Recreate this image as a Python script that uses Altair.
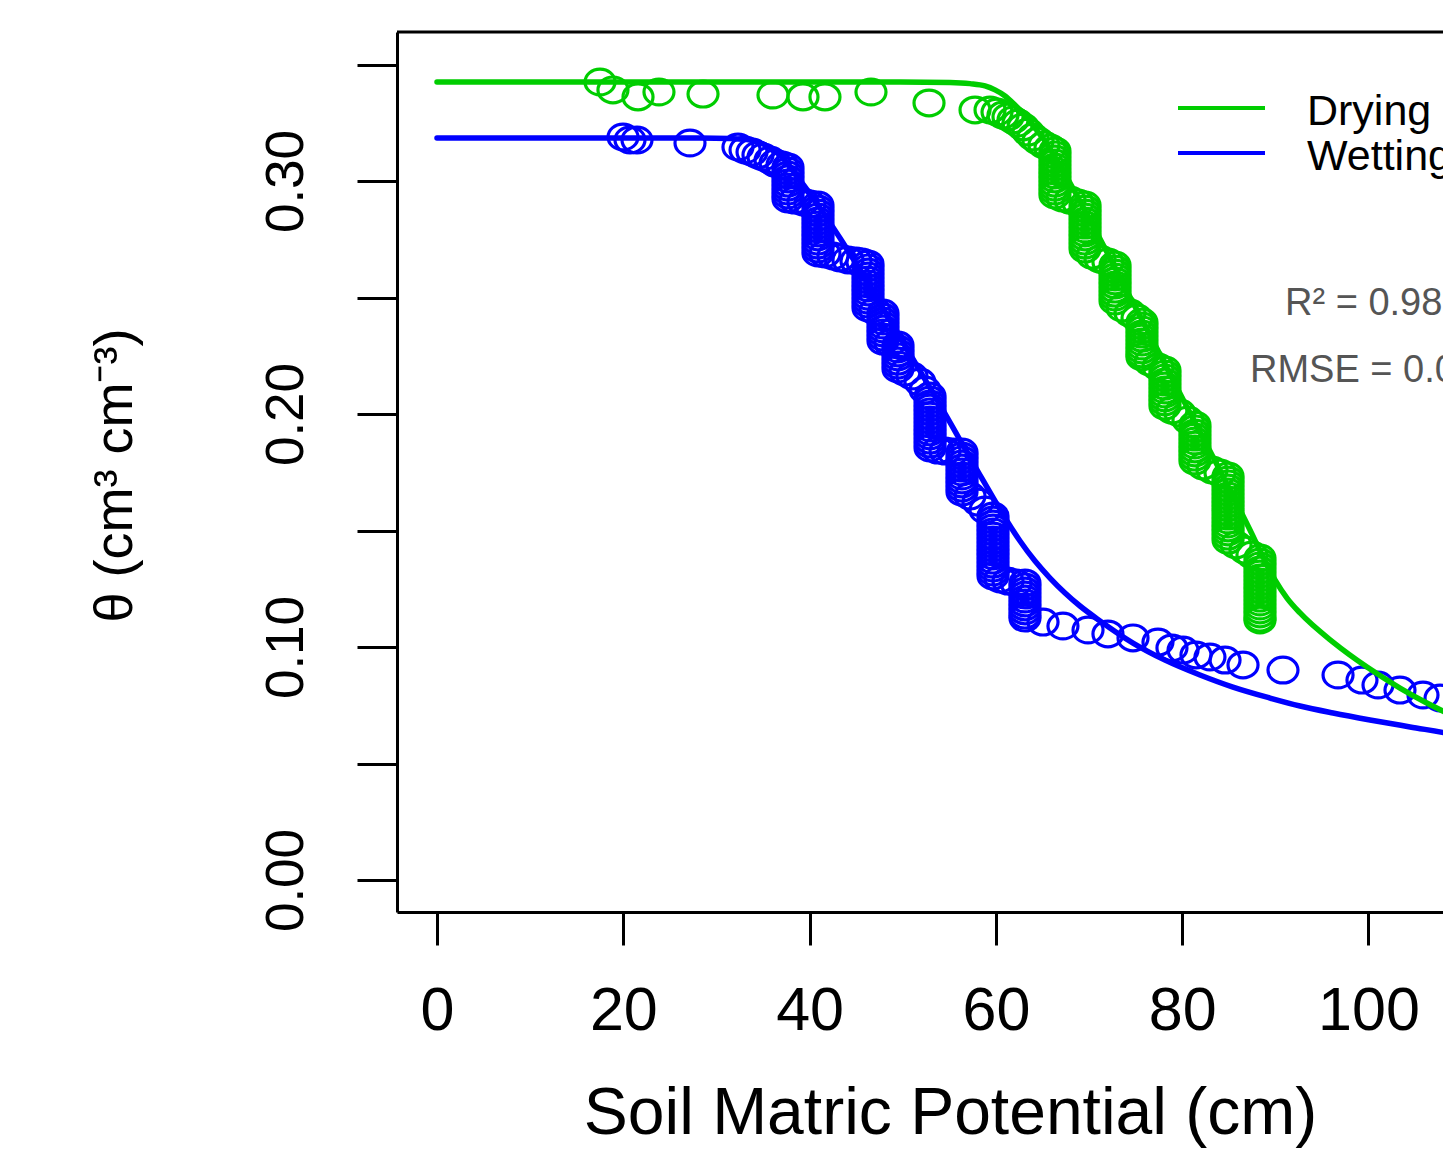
import altair as alt
import pandas as pd

FONT = "Liberation Sans"

# ---------------- data ----------------
# Drying (green) observations: scattered points
dry_pts_x = [17.50, 18.89, 21.58, 23.83, 28.56, 36.07, 39.29, 41.65, 46.59, 52.82,
             57.76, 59.37, 60.12, 60.76, 61.30, 61.84, 62.37, 62.91, 63.45, 63.98,
             64.52, 65.16, 65.81,
             67.10, 67.96, 68.81, 70.32, 71.18, 72.03, 73.54, 74.40, 75.15,
             76.54, 77.40, 78.90, 79.76, 80.62, 82.23, 83.20, 84.06,
             85.78, 86.74, 87.49]
dry_pts_y = [0.3425, 0.3391, 0.3361, 0.3382, 0.3373, 0.3369, 0.3361, 0.3361, 0.3382, 0.3335,
             0.3305, 0.3305, 0.3296, 0.3283, 0.3275, 0.3262, 0.3249, 0.3232, 0.3210, 0.3189,
             0.3172, 0.3155, 0.3142,
             0.2927, 0.2918, 0.2906, 0.2682, 0.2665, 0.2652, 0.2455, 0.2433, 0.2412,
             0.2223, 0.2202, 0.2017, 0.2004, 0.1974, 0.1777, 0.1760, 0.1747,
             0.1438, 0.1416, 0.1395]
# Drying observations: vertical runs (same potential, many water contents)
dry_stack_x = [66.34, 69.57, 72.79, 75.68, 78.15, 81.37, 84.92, 88.35]
dry_stack_y = [
    [0.3129, 0.3112, 0.3094, 0.3077, 0.3060, 0.3043, 0.3026, 0.3009, 0.2991, 0.2974, 0.2957, 0.2940],
    [0.2897, 0.2880, 0.2863, 0.2845, 0.2828, 0.2811, 0.2794, 0.2777, 0.2760, 0.2742, 0.2725, 0.2708],
    [0.2639, 0.2622, 0.2605, 0.2588, 0.2571, 0.2554, 0.2536, 0.2519, 0.2502, 0.2485],
    [0.2395, 0.2378, 0.2361, 0.2343, 0.2326, 0.2309, 0.2292, 0.2275, 0.2258, 0.2245],
    [0.2189, 0.2172, 0.2155, 0.2137, 0.2120, 0.2103, 0.2086, 0.2069, 0.2052, 0.2034],
    [0.1953, 0.1936, 0.1918, 0.1901, 0.1884, 0.1867, 0.1850, 0.1833, 0.1815, 0.1798],
    [0.1734, 0.1717, 0.1700, 0.1682, 0.1665, 0.1648, 0.1631, 0.1614, 0.1597, 0.1579,
     0.1562, 0.1545, 0.1528, 0.1511, 0.1494, 0.1476, 0.1459],
    [0.1382, 0.1365, 0.1348, 0.1330, 0.1313, 0.1296, 0.1279, 0.1262, 0.1245, 0.1227,
     0.1210, 0.1193, 0.1176, 0.1159, 0.1142, 0.1124, 0.1116],
]

# Wetting (blue) observations: scattered points
wet_pts_x = [19.97, 20.72, 21.47, 27.16, 32.31, 33.07, 33.82, 34.46, 35.00, 35.75, 36.29, 37.04,
             38.43, 39.29, 40.04, 41.65, 42.51, 43.26, 44.12, 44.98, 45.62,
             47.02, 48.63, 50.24, 50.99, 51.85, 52.40, 53.78, 54.54, 55.39,
             57.22, 58.08, 58.83, 60.44, 61.30, 62.16,
             65.06, 67.20, 69.89, 72.03, 74.72, 77.40, 78.90, 80.09, 81.48, 82.98,
             84.60, 86.53, 90.82, 96.73, 99.30, 101.02, 103.38, 105.85, 107.68]
wet_pts_y = [0.3189, 0.3176, 0.3176, 0.3163, 0.3146, 0.3133, 0.3124, 0.3112, 0.3103, 0.3090, 0.3077, 0.3069,
             0.2918, 0.2910, 0.2901, 0.2687, 0.2678, 0.2670, 0.2661, 0.2657, 0.2652,
             0.2442, 0.2305, 0.2180, 0.2163, 0.2137, 0.2103, 0.1845, 0.1841, 0.1837,
             0.1648, 0.1622, 0.1588, 0.1292, 0.1283, 0.1275,
             0.1107, 0.1090, 0.1073, 0.1056, 0.1039, 0.1021, 0.0996, 0.0987, 0.0966, 0.0957,
             0.0944, 0.0923, 0.0901, 0.0880, 0.0858, 0.0837, 0.0815, 0.0794, 0.0781]
# Wetting observations: vertical runs
wet_stack_x = [37.68, 40.90, 46.27, 47.88, 49.49, 52.93, 56.36, 59.69, 63.12]
wet_stack_y = [
    [0.3060, 0.3043, 0.3026, 0.3009, 0.2991, 0.2974, 0.2957, 0.2940, 0.2923],
    [0.2897, 0.2880, 0.2863, 0.2845, 0.2828, 0.2811, 0.2794, 0.2777, 0.2760, 0.2742,
     0.2725, 0.2708, 0.2691],
    [0.2644, 0.2627, 0.2609, 0.2592, 0.2575, 0.2558, 0.2541, 0.2524, 0.2506, 0.2489,
     0.2472, 0.2455],
    [0.2433, 0.2416, 0.2399, 0.2382, 0.2365, 0.2348, 0.2330, 0.2313],
    [0.2296, 0.2279, 0.2262, 0.2245, 0.2227, 0.2210, 0.2193],
    [0.2077, 0.2060, 0.2043, 0.2026, 0.2009, 0.1991, 0.1974, 0.1957, 0.1940, 0.1923,
     0.1906, 0.1888, 0.1871, 0.1854],
    [0.1837, 0.1820, 0.1803, 0.1785, 0.1768, 0.1751, 0.1734, 0.1717, 0.1700, 0.1682, 0.1665],
    [0.1562, 0.1545, 0.1528, 0.1511, 0.1494, 0.1476, 0.1459, 0.1442, 0.1425, 0.1408,
     0.1391, 0.1373, 0.1356, 0.1339, 0.1322, 0.1305],
    [0.1275, 0.1258, 0.1240, 0.1223, 0.1206, 0.1189, 0.1172, 0.1155, 0.1137, 0.1124],
]

# Fitted retention curves
dry_fit_x = [0, 49.71, 55.07, 57.22, 58.83, 59.90, 60.98, 62.05, 63.12, 64.20, 65.27, 66.34,
             67.42, 68.49, 70.10, 72.25, 74.40, 76.54, 78.69, 80.84, 82.98, 85.13, 87.28,
             88.57, 89.96, 91.25, 92.65, 96.19, 99.84, 103.38, 106.06, 108.86, 110.0]
dry_fit_y = [0.3425, 0.3425, 0.3423, 0.3418, 0.3408, 0.3391, 0.3365, 0.3326, 0.3283, 0.3227,
             0.3172, 0.3103, 0.3030, 0.2953, 0.2833, 0.2670, 0.2502, 0.2339, 0.2172, 0.2004,
             0.1841, 0.1674, 0.1502, 0.1395, 0.1288, 0.1210, 0.1146, 0.1021, 0.0914, 0.0824,
             0.0764, 0.0708, 0.0687]
wet_fit_x = [0, 28.23, 31.45, 33.60, 35.21, 36.82, 38.97, 41.12, 43.26, 45.41, 47.56, 49.70,
             51.85, 54.00, 56.15, 58.29, 59.90, 61.19, 62.59, 64.20, 65.81, 67.42, 69.03,
             71.18, 74.72, 78.15, 81.91, 85.45, 89.43, 92.65, 96.19, 100.16, 104.46, 108.86,
             110.0]
wet_fit_y = [0.3185, 0.3185, 0.3182, 0.3176, 0.3155, 0.3112, 0.3004, 0.2884, 0.2755, 0.2618,
             0.2476, 0.2330, 0.2185, 0.2039, 0.1888, 0.1738, 0.1627, 0.1541, 0.1455, 0.1369,
             0.1296, 0.1232, 0.1176, 0.1112, 0.1017, 0.0944, 0.0880, 0.0828, 0.0781, 0.0747,
             0.0717, 0.0687, 0.0657, 0.0627, 0.0618]

x_tick_values = [0, 20, 40, 60, 80, 100]
y_tick_values = [0.00, 0.05, 0.10, 0.15, 0.20, 0.25, 0.30, 0.35]
series = ["Drying", "Wetting"]
series_colors = ["#00CD00", "#0000FF"]
fit_stats = ["R\u00b2 = 0.98", "RMSE = 0.0"]
x_title = "Soil Matric Potential (cm)"
y_title = "\u03b8 (cm\u00b3 cm\u207b\u00b3)"


# ---------------- build tables ----------------
def obs_frame(px, py, sx, sy, name):
    xs, ys = list(px), list(py)
    for xv, col in zip(sx, sy):
        xs += [xv] * len(col)
        ys += list(col)
    return pd.DataFrame({"psi": xs, "theta": ys, "series": name})


dry_obs = obs_frame(dry_pts_x, dry_pts_y, dry_stack_x, dry_stack_y, series[0])
wet_obs = obs_frame(wet_pts_x, wet_pts_y, wet_stack_x, wet_stack_y, series[1])
dry_fit = pd.DataFrame({"psi": dry_fit_x, "theta": dry_fit_y, "series": series[0]})
wet_fit = pd.DataFrame({"psi": wet_fit_x, "theta": wet_fit_y, "series": series[1]})

# ---------------- layout ----------------
W, H = 1046, 880
PAD = {"left": 389, "top": 24, "right": 0, "bottom": 238}

x_enc = alt.X(
    "psi:Q",
    scale=alt.Scale(domain=[-4.294, 107.998], nice=False, zero=False),
    axis=alt.Axis(
        values=x_tick_values, grid=False, title=x_title, format="d",
        domainColor="black", domainWidth=3, tickColor="black", tickWidth=3, tickSize=33,
        labelFont=FONT, labelFontSize=61, labelColor="black", labelPadding=84,
        labelBaseline="alphabetic", labelFlush=False, labelOverlap=False,
        titleFont=FONT, titleFontSize=66, titleFontWeight="normal", titleColor="black",
        titleX=553, titleY=221, titleAlign="center", titleBaseline="alphabetic",
    ),
)
y_enc = alt.Y(
    "theta:Q",
    scale=alt.Scale(domain=[-0.01373, 0.36395], nice=False, zero=False),
    axis=alt.Axis(
        values=y_tick_values, grid=False, title=y_title,
        labelExpr="(round(datum.value*100) % 10 == 0) ? format(datum.value, '.2f') : ''",
        domainColor="black", domainWidth=3, tickColor="black", tickWidth=3, tickSize=40,
        labelFont=FONT, labelFontSize=53, labelColor="black", labelPadding=55,
        labelAngle=270, labelAlign="center", labelBaseline="alphabetic",
        labelFlush=False, labelOverlap=False,
        titleFont=FONT, titleFontSize=54, titleFontWeight="normal", titleColor="black",
        titleAngle=270, titleX=-266, titleY=443, titleAlign="center",
        titleBaseline="alphabetic",
    ),
)
color_enc = alt.Color("series:N", scale=alt.Scale(domain=series, range=series_colors), legend=None)

ELLIPSE = "M -1 0 A 1 0.86 0 1 1 1 0 A 1 0.86 0 1 1 -1 0 Z"


def points(df):
    return alt.Chart(df).mark_point(
        shape=ELLIPSE, filled=False, size=900, strokeWidth=3.2, opacity=1, clip=True
    ).encode(x=x_enc, y=y_enc, color=color_enc)


def curve(df):
    return alt.Chart(df).mark_line(
        interpolate="monotone", strokeWidth=5.5, strokeCap="round", clip=True
    ).encode(x=x_enc, y=y_enc, color=color_enc, order="psi:Q")


one = pd.DataFrame({"k": [0]})


def text_layer(txt, x, y, size, color):
    return alt.Chart(pd.DataFrame({"t": [txt]})).mark_text(
        align="left", baseline="alphabetic", font=FONT, fontSize=size, color=color
    ).encode(text="t:N", x=alt.value(x), y=alt.value(y))


def legend_line(color, y):
    return alt.Chart(one).mark_rule(color=color, strokeWidth=4).encode(
        x=alt.value(781), x2=alt.value(868), y=alt.value(y)
    )


top_border = alt.Chart(one).mark_rule(color="black", strokeWidth=3).encode(
    x=alt.value(0), x2=alt.value(W), y=alt.value(0)
)

chart = alt.layer(
    points(dry_obs),
    points(wet_obs),
    curve(dry_fit),
    curve(wet_fit),
    legend_line(series_colors[0], 76),
    legend_line(series_colors[1], 121),
    text_layer(series[0], 910, 93, 43, "black"),
    text_layer(series[1], 910, 138, 43, "black"),
    text_layer(fit_stats[0], 888, 283, 38, "#555555"),
    text_layer(fit_stats[1], 853, 350, 38, "#555555"),
    top_border,
).properties(
    width=W, height=H, padding=PAD, autosize=alt.AutoSizeParams(type="none")
).configure_view(strokeWidth=0).configure(font=FONT, background="white")

chart.save("out.html", embed_options={"renderer": "svg", "actions": False})
